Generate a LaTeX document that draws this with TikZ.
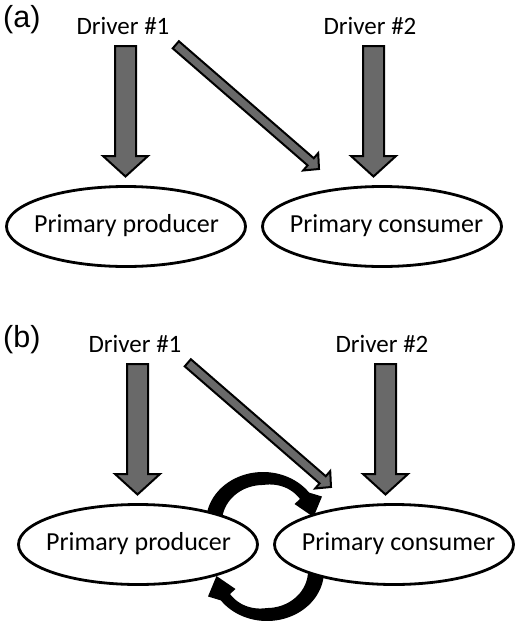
\documentclass[tikz,border=0pt]{standalone}
\usepackage{fontspec}
\setmainfont{Carlito}
\newfontfamily\arialf{Liberation Sans}
\usetikzlibrary{shapes.geometric,calc}
\pgfdeclarelayer{bg}
\pgfdeclarelayer{back}
\pgfsetlayers{bg,back,main}
\definecolor{arrgray}{RGB}{105,105,105}
% #1 start, #2 tip, #3 shaft half width, #4 head half width, #5 head length
\newcommand\blkarrow[5]{%
  \coordinate (tmpB) at ($(#2)!#5!(#1)$);
  \draw[blockarr] ($(#1)!#3!90:(#2)$) -- ($(tmpB)!#3!90:(#2)$) -- ($(tmpB)!#4!90:(#2)$) -- (#2)
     -- ($(tmpB)!#4!-90:(#2)$) -- ($(tmpB)!#3!-90:(#2)$) -- ($(#1)!#3!-90:(#2)$) -- cycle;
}
% thick curved arrow, tapering towards its head
\newcommand\curvarrow{%
  \fill[black] plot[domain=175:324, samples=60, variable=\t] ({263+57*cos(\t)},{522+50*sin(\t)})
     -- (322,496.5) -- (313.5,517) -- (294.5,504)
     -- plot[domain=328:175, samples=60, variable=\t]
        ({263+(41+0.045*max(0,\t-270))*cos(\t)},{522+(37+0.11*max(0,\t-270))*sin(\t)}) -- cycle;
}
\begin{document}
\begin{tikzpicture}[x=1pt,y=-1pt,
  drv/.style={font=\fontsize{25}{30}\selectfont, inner sep=0pt, anchor=base},
  etxt/.style={font=\fontsize{26}{31}\selectfont, inner sep=0pt, anchor=base},
  ell/.style={draw=black, line width=2.8pt, fill=white, ellipse, minimum width=239pt, minimum height=80pt, inner sep=0pt},
  panel/.style={font=\arialf\fontsize{30.5}{35}\selectfont, inner sep=0pt, anchor=base west},
  blockarr/.style={draw=black, line width=2pt, fill=arrgray, line join=miter}]
\begin{pgfonlayer}{bg}
  \fill[white] (0,0) rectangle (520,627);
\end{pgfonlayer}
\useasboundingbox (0,0) rectangle (520,627);

% ---------- panel (a)
\node[panel] (lblA) at (3,27.5) {(a)};
\node[drv] (d1a) at (123,34) {Driver \#1};
\node[drv] (d2a) at (370,34) {Driver \#2};
\node[ell] (ppa) at (126,226.5) {};
\node[ell] (pca) at (382,226.5) {};
\node[etxt] (ppat) at (126.5,232) {Primary producer};
\node[etxt] (pcat) at (386.5,232) {Primary consumer};
\coordinate (a1s) at (125.5,46); \coordinate (a1t) at (125.5,176.5);
\coordinate (a2s) at (373.5,46); \coordinate (a2t) at (373.5,176.5);
\coordinate (a3s) at (175.8,44.8); \coordinate (a3t) at (319,169);
\blkarrow{a1s}{a1t}{10.5pt}{22.5pt}{20.5pt}
\blkarrow{a2s}{a2t}{10.5pt}{22.5pt}{20.5pt}
\blkarrow{a3s}{a3t}{4.7pt}{11.5pt}{11pt}

% ---------- panel (b)
\node[panel] (lblB) at (3,347.5) {(b)};
\begin{scope}[shift={(12,318)}]
\node[drv] (d1b) at (123,34) {Driver \#1};
\node[drv] (d2b) at (370,34) {Driver \#2};
\node[ell] (ppb) at (126,226.5) {};
\node[ell] (pcb) at (382,226.5) {};
\node[etxt] (ppbt) at (126.5,232) {Primary producer};
\node[etxt] (pcbt) at (386.5,232) {Primary consumer};
\coordinate (b1s) at (125.5,46); \coordinate (b1t) at (125.5,176.5);
\coordinate (b2s) at (373.5,46); \coordinate (b2t) at (373.5,176.5);
\coordinate (b3s) at (175.8,44.8); \coordinate (b3t) at (319,169);
\blkarrow{b1s}{b1t}{10.5pt}{22.5pt}{20.5pt}
\blkarrow{b2s}{b2t}{10.5pt}{22.5pt}{20.5pt}
\blkarrow{b3s}{b3t}{4.7pt}{11.5pt}{11pt}
\end{scope}
% curved interaction arrows between the two ellipses (behind them)
\begin{pgfonlayer}{back}
  \curvarrow
  \begin{scope}[rotate around={180:(265,546.5)}]
    \curvarrow
  \end{scope}
\end{pgfonlayer}
\end{tikzpicture}
\end{document}
